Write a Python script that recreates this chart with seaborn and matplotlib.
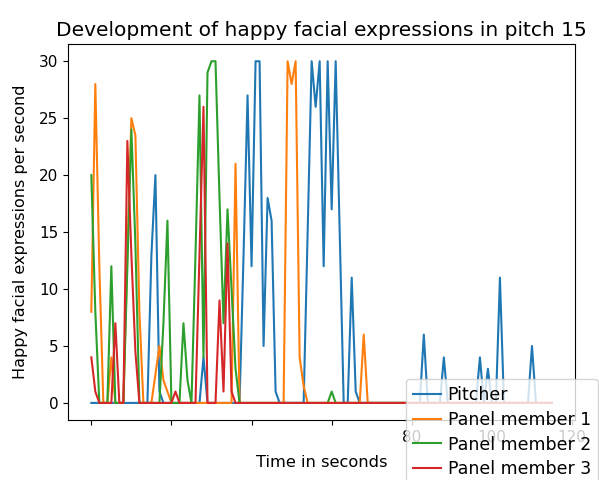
import matplotlib
matplotlib.use("Agg")
import matplotlib.pyplot as plt
import seaborn as sns
import numpy as np
import pandas as pd

# time in seconds (0..115)
seconds = list(range(116))

def series(peaks):
    vals = [0.0] * 116
    for k, v in peaks.items():
        vals[k] = v
    return vals

pitcher_vals = series({
    15: 13, 16: 20, 17: 1, 28: 4,
    38: 13, 39: 27, 40: 12, 41: 30, 42: 30, 43: 5, 44: 18, 45: 16, 46: 1,
    54: 15, 55: 30, 56: 26, 57: 30, 58: 12, 59: 30, 60: 17, 61: 30, 62: 15,
    65: 11, 66: 1,
    83: 6, 88: 4, 97: 4, 99: 3, 102: 11, 110: 5,
})
panel1_vals = series({
    0: 8, 1: 28, 2: 12, 5: 4, 9: 13, 10: 25, 11: 23.5, 12: 8,
    16: 2.5, 17: 5, 18: 2, 19: 1, 36: 21,
    49: 30, 50: 28, 51: 30, 52: 4, 53: 1.5, 68: 6,
})
panel2_vals = series({
    0: 20, 1: 8, 5: 12, 9: 12, 10: 24, 11: 14,
    18: 7, 19: 16, 23: 7, 24: 2, 26: 13, 27: 27, 28: 4, 29: 29, 30: 30,
    31: 30, 32: 18, 33: 7, 34: 17, 35: 10, 36: 3, 60: 1,
})
panel3_vals = series({
    0: 4, 1: 1, 6: 7, 9: 23, 10: 13, 11: 4.5, 21: 1,
    27: 13, 28: 26, 32: 9, 33: 1, 34: 14, 35: 1,
})

series_names = ["Pitcher", "Panel member 1", "Panel member 2", "Panel member 3"]
series_values = [pitcher_vals, panel1_vals, panel2_vals, panel3_vals]
xtick_pos = [0, 20, 40, 60, 80, 100, 120]
xtick_labels = ["", "", "", "", "80", "100", "120"]

fig = plt.figure(figsize=(5.99, 4.8), dpi=100)
ax = fig.add_axes([0.114, 0.125, 0.846, 0.783])

palette = sns.color_palette("tab10")
for i, (name, vals) in enumerate(zip(series_names, series_values)):
    sns.lineplot(x=seconds, y=vals, ax=ax, label=name, color=palette[i], linewidth=1.5)

ax.set_xticks(xtick_pos)
ax.set_xticklabels(xtick_labels)
ax.tick_params(labelsize=11)
ax.set_title("Development of happy facial expressions in pitch 15", fontsize=14.5)
ax.set_xlabel("Time in seconds", fontsize=11.7, labelpad=7.5)
ax.set_ylabel("Happy facial expressions per second", fontsize=11.5, labelpad=8)

ax.legend(loc="upper left", bbox_to_anchor=(0.649, 0.133), fontsize=12.5,
          framealpha=0.8, labelspacing=0.4, handlelength=1.6, handletextpad=0.4,
          borderpad=0.4)

fig.savefig("out.png", dpi=100)
